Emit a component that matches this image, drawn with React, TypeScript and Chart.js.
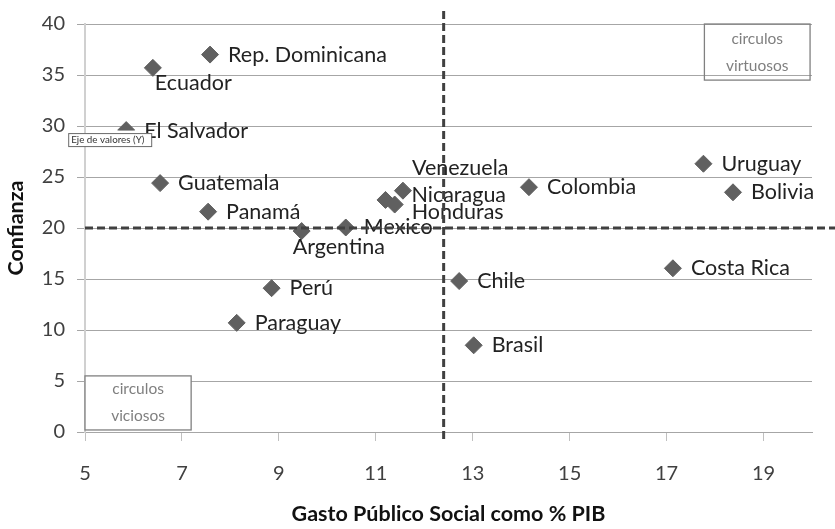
import React, { useEffect, useRef } from "react";
import { Chart, registerables } from "chart.js";

Chart.register(...registerables);

// ---- Data ----
const countries = [
  "Rep. Dominicana", "Ecuador", "El Salvador", "Guatemala", "Panamá", "Argentina",
  "Mexico", "Venezuela", "Nicaragua", "Honduras", "Colombia", "Uruguay", "Bolivia",
  "Perú", "Paraguay", "Chile", "Costa Rica", "Brasil",
];
const gastoSocial = [
  7.58, 6.4, 5.85, 6.55, 7.54, 9.47, 10.38, 11.56, 11.2, 11.39, 14.16, 17.76, 18.37,
  8.85, 8.13, 12.72, 17.13, 13.02,
];
const confianza = [
  37.0, 35.7, 29.6, 24.4, 21.6, 19.7, 20.05, 23.66, 22.75, 22.3, 24.0, 26.3, 23.5,
  14.1, 10.7, 14.8, 16.05, 8.5,
];
const xTickValues = [5, 7, 9, 11, 13, 15, 17, 19];
const refGasto = 12.4;
const refConfianza = 20;

// ---- Label placement (pixel offsets of label from its marker) ----
const defaultLabelOffset: [number, number] = [18, 0];
const labelOffsets: Record<string, [number, number]> = {
  Ecuador: [2, 15],
  Argentina: [-9, 16],
  Venezuela: [9, -23],
  Nicaragua: [26, -5],
  Honduras: [17, 8],
  "El Salvador": [18, 1],
};

const FONT = "Lato, 'Open Sans', sans-serif";

const overlayPlugin = {
  id: "overlay",
  afterDatasetsDraw(chart: any) {
    const { ctx, chartArea, scales } = chart;
    const xs = scales.x;
    const ys = scales.y;
    const meta = chart.getDatasetMeta(0);
    ctx.save();

    // data labels
    ctx.font = `21.5px ${FONT}`;
    ctx.fillStyle = "#222222";
    ctx.textBaseline = "middle";
    ctx.textAlign = "left";
    meta.data.forEach((pt: any, i: number) => {
      const [dx, dy] = labelOffsets[countries[i]] ?? defaultLabelOffset;
      ctx.fillText(countries[i], pt.x + dx, pt.y + dy);
    });

    // dashed reference lines
    ctx.setLineDash([8, 4]);
    ctx.lineWidth = 3;
    ctx.strokeStyle = "#404040";
    const yRef = ys.getPixelForValue(refConfianza);
    ctx.beginPath();
    ctx.moveTo(chartArea.left, yRef);
    ctx.lineTo(chart.width, yRef);
    ctx.stroke();
    const xRef = xs.getPixelForValue(refGasto);
    ctx.beginPath();
    ctx.moveTo(xRef, chartArea.top - 13);
    ctx.lineTo(xRef, chartArea.bottom + 10);
    ctx.stroke();
    ctx.setLineDash([]);

    // quadrant note boxes
    const drawBox = (x0: number, x1: number, y0: number, y1: number, lines: string[], fill: boolean) => {
      const l = xs.getPixelForValue(x0);
      const r = xs.getPixelForValue(x1);
      const t = ys.getPixelForValue(y0);
      const b = ys.getPixelForValue(y1);
      if (fill) {
        ctx.fillStyle = "#ffffff";
        ctx.fillRect(l, t, r - l, b - t);
      }
      ctx.lineWidth = 1.3;
      ctx.strokeStyle = "#808080";
      ctx.strokeRect(l, t, r - l, b - t);
      ctx.fillStyle = "#7f7f7f";
      ctx.font = `15.5px ${FONT}`;
      ctx.textAlign = "center";
      ctx.textBaseline = "middle";
      const cx = (l + r) / 2;
      const cy = (t + b) / 2;
      ctx.fillText(lines[0], cx, cy - 13.5);
      ctx.fillText(lines[1], cx, cy + 13.5);
    };
    drawBox(5, 7.19, 5.5, 0.2, ["circulos", "viciosos"], true);
    drawBox(17.78, 19.96, 40, 34.5, ["circulos", "virtuosos"], false);

    // leftover "Eje de valores (Y)" tooltip covering El Salvador marker
    const es = meta.data[countries.indexOf("El Salvador")];
    ctx.fillStyle = "#ffffff";
    ctx.fillRect(es.x - 10, es.y + 0.5, 20, 4);
    const tl = es.x - 58;
    const tt = es.y + 3;
    ctx.fillRect(tl, tt, 83, 13);
    ctx.lineWidth = 1;
    ctx.strokeStyle = "#6a6a6a";
    ctx.strokeRect(tl + 0.5, tt + 0.5, 83, 13);
    ctx.fillStyle = "#333333";
    ctx.font = `9.8px ${FONT}`;
    ctx.textAlign = "left";
    ctx.textBaseline = "middle";
    ctx.fillText("Eje de valores (Y)", tl + 3, tt + 7);

    ctx.restore();
  },
};

export default function App() {
  const canvasRef = useRef<HTMLCanvasElement | null>(null);

  useEffect(() => {
    if (!canvasRef.current) return;
    const points = gastoSocial.map((g, i) => ({ x: g, y: confianza[i] }));
    const chart = new Chart(canvasRef.current, {
      type: "scatter",
      data: {
        datasets: [
          {
            label: "Países",
            data: points,
            pointStyle: "rectRot",
            pointRadius: 8.5,
            pointBackgroundColor: "#606060",
            pointBorderColor: "#606060",
            pointBorderWidth: 1,
          },
        ],
      },
      options: {
        responsive: false,
        animation: false,
        devicePixelRatio: 1,
        layout: { padding: { top: 20, right: 23, left: 0, bottom: 0 } },
        plugins: {
          legend: { display: false },
          tooltip: { enabled: false },
        },
        scales: {
          x: {
            type: "linear",
            min: 5,
            max: 20,
            afterBuildTicks: (s: any) => {
              s.ticks = xTickValues.map((v) => ({ value: v }));
            },
            afterFit: (s: any) => {
              s.height = 97;
            },
            grid: {
              drawOnChartArea: false,
              drawTicks: true,
              tickLength: 9,
              color: "#c0c0c0",
            },
            border: { display: true, color: "#a6a6a6", width: 1 },
            ticks: {
              font: { family: FONT, size: 20 },
              color: "#404040",
              padding: 21,
              maxRotation: 0,
              autoSkip: false,
            },
            title: {
              display: true,
              text: "Gasto Público Social como % PIB",
              font: { family: FONT, size: 21.5, weight: "bold" },
              color: "#111111",
              padding: { top: 0, bottom: 2 },
            },
          },
          y: {
            min: 0,
            max: 40,
            afterFit: (s: any) => {
              s.width = 85;
            },
            grid: { color: "#a6a6a6", tickLength: 8, lineWidth: 1 },
            border: { display: true, color: "#d0d0d0", width: 2 },
            ticks: {
              stepSize: 5,
              font: { family: FONT, size: 20 },
              color: "#404040",
              padding: 12,
            },
            title: {
              display: true,
              text: "Confianza",
              font: { family: FONT, size: 21.5, weight: "bold" },
              color: "#111111",
              padding: { top: 3, bottom: 0 },
            },
          },
        },
      },
      plugins: [overlayPlugin],
    });
    return () => chart.destroy();
  }, []);

  return (
    <canvas
      ref={canvasRef}
      width={835}
      height={529}
      style={{ position: "fixed", left: 0, top: 0 }}
    />
  );
}
